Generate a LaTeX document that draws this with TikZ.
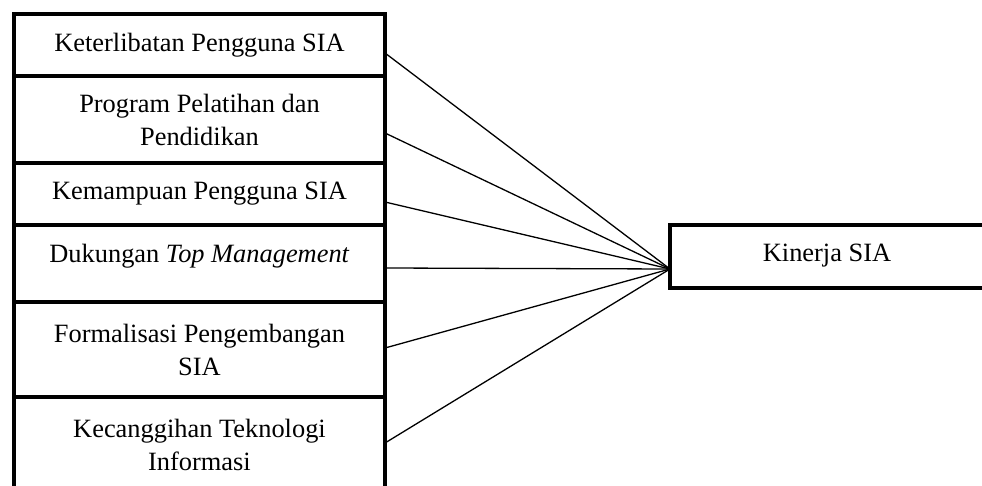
\documentclass[tikz,border=0pt]{standalone}
\usepackage{fontspec}
\setmainfont{Liberation Serif}
\begin{document}
\begin{tikzpicture}[x=1pt,y=-1pt,
  varbox/.style={draw=black,line width=4pt,rectangle,minimum width=371pt,inner sep=0pt,outer sep=0pt,align=center,
    font=\fontsize{26.4}{33}\selectfont},
  kbox/.style={draw=black,line width=4pt,rectangle,minimum width=316pt,minimum height=63pt,inner sep=0pt,outer sep=0pt,
    font=\fontsize{26.4}{33}\selectfont},
  txt/.style={inner sep=0pt,align=center,font=\fontsize{26.4}{33}\selectfont},
  link/.style={draw=black,line width=1.3pt}]
\useasboundingbox (0,0) rectangle (982,486);
\clip (0,0) rectangle (982,486);
\node[varbox,minimum height=62pt] (b1) at (199.5,45) {Keterlibatan Pengguna SIA};
\node[varbox,minimum height=87pt] (b2) at (199.5,119.5) {Program Pelatihan dan\\Pendidikan};
\node[varbox,minimum height=62pt] (b3) at (199.5,194) {Kemampuan Pengguna SIA};
\node[varbox,minimum height=77pt] (b4) at (199.5,263.5) {};
\node[txt] (b4t) at (199.5,256) {Dukungan \textit{Top Management}};
\node[varbox,minimum height=95pt] (b5) at (199.5,349.5) {Formalisasi Pengembangan\\SIA};
\node[varbox,minimum height=95pt] (b6) at (199.5,444.5) {Kecanggihan Teknologi\\Informasi};
\node[kbox] (k) at (828,256.5) {};
\node[txt] (kt) at (827,256) {Kinerja SIA};
\coordinate (t) at ([yshift=-12.5pt]k.west);
\draw[link] ([yshift=-8pt]b1.east) -- (t);
\draw[link] ([yshift=-13.5pt]b2.east) -- (t);
\draw[link] ([yshift=-8pt]b3.east) -- (t);
\draw[link] ([yshift=-4.5pt]b4.east) -- (t);
\draw[link] ([yshift=1.5pt]b5.east) -- (t);
\draw[link] ([yshift=1.5pt]b6.east) -- (t);
\end{tikzpicture}
\end{document}
